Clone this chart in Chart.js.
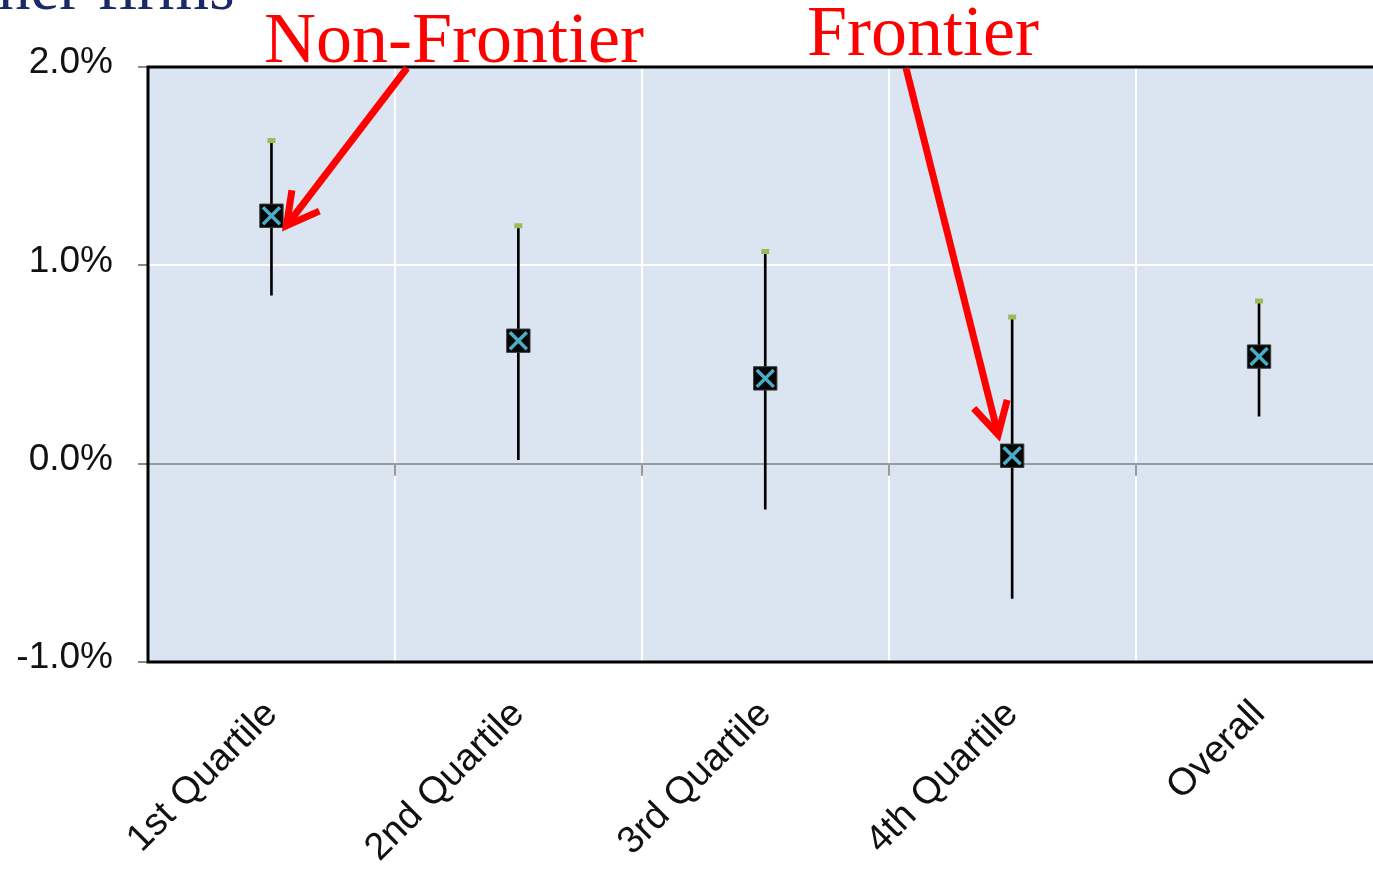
<!DOCTYPE html>
<html>
<head>
<meta charset="utf-8">
<script src="https://cdn.jsdelivr.net/npm/chart.js@4/dist/chart.umd.min.js"></script>
<style>
  html, body { margin: 0; padding: 0; background: #fff; overflow: hidden; }
  #wrap { position: relative; width: 1373px; height: 869px; overflow: hidden; }
  #chart { position: absolute; left: 0; top: 0; }
  #heading {
    position: absolute; left: -2px; top: -45px;
    font: 65px "Liberation Serif", "Times New Roman", serif;
    line-height: 65px; color: #1b2a66; white-space: nowrap;
  }
</style>
</head>
<body>
<div id="wrap">
  <canvas id="chart" width="1400" height="869"></canvas>
  <div id="heading">ner firms</div>
</div>
<script>
// Growth-gap estimates by productivity quartile, in percent, with confidence bounds
const categories = ['1st Quartile', '2nd Quartile', '3rd Quartile', '4th Quartile', 'Overall'];
const estimate   = [1.25, 0.62, 0.43, 0.04, 0.54];
const upper      = [1.63, 1.20, 1.07, 0.74, 0.82];
const lower      = [0.85, 0.02, -0.23, -0.68, 0.24];
const yTicks     = [-1, 0, 1, 2];

const PLOT_BG = '#dbe5f1';
const RED = '#ff0000';

// Floating bars [lower, upper] serve as the whiskers
const ranges = categories.map((_, i) => [lower[i], upper[i]]);

// Light-blue plot background
const plotBackground = {
  id: 'plotBackground',
  beforeDraw(chart) {
    const { ctx, chartArea: a } = chart;
    ctx.save();
    ctx.fillStyle = PLOT_BG;
    ctx.fillRect(a.left, a.top, a.right - a.left, a.bottom - a.top);
    ctx.restore();
  }
};

// Black frame, plus short category ticks hanging from the zero line
const plotFrame = {
  id: 'plotFrame',
  afterDatasetsDraw(chart) {
    const { ctx, chartArea: a, scales } = chart;
    const xs = scales.x, ys = scales.y;
    const y0 = ys.getPixelForValue(0);
    ctx.save();
    ctx.strokeStyle = '#9a9a9a';
    ctx.lineWidth = 2;
    for (let i = 0; i < categories.length - 1; i++) {
      const xb = Math.round((xs.getPixelForValue(i) + xs.getPixelForValue(i + 1)) / 2);
      ctx.beginPath();
      ctx.moveTo(xb, y0);
      ctx.lineTo(xb, y0 + 12);
      ctx.stroke();
    }
    ctx.strokeStyle = '#000';
    ctx.lineWidth = 3;
    ctx.beginPath();
    ctx.moveTo(chart.width, a.top);
    ctx.lineTo(a.left, a.top);
    ctx.lineTo(a.left, a.bottom);
    ctx.lineTo(chart.width, a.bottom);
    ctx.stroke();
    ctx.restore();
  }
};

function drawArrow(ctx, x1, y1, x2, y2) {
  const ang = Math.atan2(y2 - y1, x2 - x1);
  const len = 36, spread = 0.5;
  ctx.beginPath();
  ctx.moveTo(x1, y1);
  ctx.lineTo(x2 - Math.cos(ang) * 3, y2 - Math.sin(ang) * 3);
  ctx.stroke();
  ctx.beginPath();
  ctx.moveTo(x2 - len * Math.cos(ang - spread), y2 - len * Math.sin(ang - spread));
  ctx.lineTo(x2, y2);
  ctx.lineTo(x2 - len * Math.cos(ang + spread), y2 - len * Math.sin(ang + spread));
  ctx.stroke();
}

// Red callouts naming the non-frontier and frontier groups
const callouts = {
  id: 'callouts',
  afterDraw(chart) {
    const { ctx, chartArea: a, scales } = chart;
    const xs = scales.x, ys = scales.y;
    ctx.save();
    ctx.fillStyle = RED;
    ctx.font = '72px "Liberation Serif", "Times New Roman", serif';
    ctx.textBaseline = 'alphabetic';
    ctx.textAlign = 'left';
    ctx.fillText('Non-Frontier', 264, 62);
    ctx.fillText('Frontier', 807, 55);
    ctx.strokeStyle = RED;
    ctx.lineWidth = 7;
    ctx.lineJoin = 'miter';
    ctx.lineCap = 'butt';
    drawArrow(ctx, 407, a.top + 1, xs.getPixelForValue(0) + 15, ys.getPixelForValue(estimate[0]) + 10);
    drawArrow(ctx, 906, a.top + 1, xs.getPixelForValue(3) - 14, ys.getPixelForValue(estimate[3]) - 21);
    ctx.restore();
  }
};

new Chart(document.getElementById('chart'), {
  type: 'bar',
  data: {
    labels: categories,
    datasets: [
      {
        type: 'bar', data: ranges, backgroundColor: '#000', borderWidth: 0,
        barThickness: 2, grouped: false, order: 4
      },
      {
        type: 'line', data: upper, showLine: false, pointStyle: 'line',
        pointRadius: 4, pointBorderWidth: 5, pointBorderColor: '#9bbb59', order: 3
      },
      {
        type: 'line', data: estimate, showLine: false, pointStyle: 'rect',
        pointRadius: 16.5, pointBackgroundColor: '#060606', pointBorderColor: '#3a3a3a',
        pointBorderWidth: 1, order: 2
      },
      {
        type: 'line', data: estimate, showLine: false, pointStyle: 'crossRot',
        pointRadius: 12, pointBorderWidth: 3.5, pointBorderColor: '#4bacc6', order: 1
      }
    ]
  },
  options: {
    responsive: false,
    animation: false,
    events: [],
    layout: { padding: { top: 67, right: 17, left: 0, bottom: 0 } },
    plugins: { legend: { display: false }, tooltip: { enabled: false } },
    scales: {
      x: {
        offset: true,
        grid: { offset: true, color: '#ffffff', lineWidth: 2, drawTicks: false },
        border: { display: false },
        ticks: {
          autoSkip: false, maxRotation: 45, minRotation: 45, padding: 30,
          color: '#111', font: { family: '"Liberation Sans", Arial, sans-serif', size: 38 }
        },
        afterFit(s) { s.height = 207; }
      },
      y: {
        min: yTicks[0], max: yTicks[yTicks.length - 1],
        afterBuildTicks(s) { s.ticks = yTicks.map(v => ({ value: v })); },
        grid: {
          color: c => c.tick.value === 0 ? '#9a9a9a' : (c.tick.value === 1 ? '#ffffff' : 'rgba(0,0,0,0)'),
          lineWidth: 2, tickLength: 10, tickColor: '#8a8a8a', tickWidth: 2
        },
        border: { display: false },
        ticks: {
          padding: 25, labelOffset: -4, color: '#111',
          font: { family: '"Liberation Sans", Arial, sans-serif', size: 37 },
          callback: v => v.toFixed(1) + '%'
        },
        afterFit(s) { s.width = 148; }
      }
    }
  },
  plugins: [plotBackground, plotFrame, callouts]
});
</script>
</body>
</html>
